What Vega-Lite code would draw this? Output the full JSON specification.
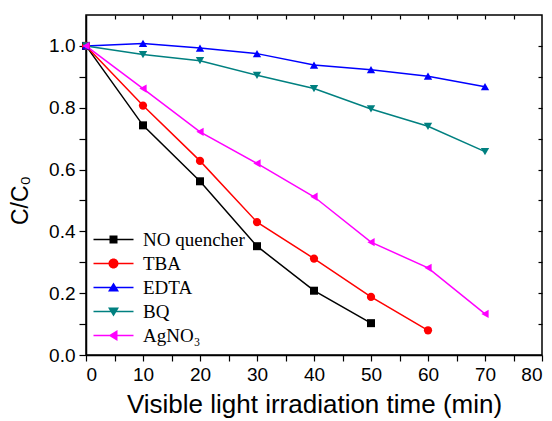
{
  "$schema": "https://vega.github.io/schema/vega-lite/v6.json",
  "width": 456,
  "height": 340,
  "autosize": {"type": "none"},
  "padding": {"left": 86, "top": 15, "right": 10, "bottom": 66},
  "background": "white",
  "config": {
    "view": {"stroke": "black", "strokeWidth": 1.5},
    "axis": {
      "domainColor": "black", "domainWidth": 1.5, "tickColor": "black", "tickWidth": 1.2,
      "labelFont": "Liberation Sans", "labelFontSize": 19, "labelColor": "black",
      "titleFont": "Liberation Sans", "titleFontSize": 26, "titleFontWeight": "normal", "titleColor": "black",
      "grid": false
    }
  },
  "data": {
    "values": [
      {"series": "NO quencher", "t": 0, "c": 1.0},
      {"series": "NO quencher", "t": 10, "c": 0.743},
      {"series": "NO quencher", "t": 20, "c": 0.562},
      {"series": "NO quencher", "t": 30, "c": 0.352},
      {"series": "NO quencher", "t": 40, "c": 0.208},
      {"series": "NO quencher", "t": 50, "c": 0.103},
      {"series": "TBA", "t": 0, "c": 1.0},
      {"series": "TBA", "t": 10, "c": 0.807},
      {"series": "TBA", "t": 20, "c": 0.628},
      {"series": "TBA", "t": 30, "c": 0.43},
      {"series": "TBA", "t": 40, "c": 0.312},
      {"series": "TBA", "t": 50, "c": 0.188},
      {"series": "TBA", "t": 60, "c": 0.08},
      {"series": "EDTA", "t": 0, "c": 1.0},
      {"series": "EDTA", "t": 10, "c": 1.008},
      {"series": "EDTA", "t": 20, "c": 0.993},
      {"series": "EDTA", "t": 30, "c": 0.975},
      {"series": "EDTA", "t": 40, "c": 0.938},
      {"series": "EDTA", "t": 50, "c": 0.923},
      {"series": "EDTA", "t": 60, "c": 0.902},
      {"series": "EDTA", "t": 70, "c": 0.868},
      {"series": "BQ", "t": 0, "c": 1.0},
      {"series": "BQ", "t": 10, "c": 0.972},
      {"series": "BQ", "t": 20, "c": 0.952},
      {"series": "BQ", "t": 30, "c": 0.905},
      {"series": "BQ", "t": 40, "c": 0.862},
      {"series": "BQ", "t": 50, "c": 0.796},
      {"series": "BQ", "t": 60, "c": 0.74},
      {"series": "BQ", "t": 70, "c": 0.658},
      {"series": "AgNO₃", "t": 0, "c": 1.0},
      {"series": "AgNO₃", "t": 10, "c": 0.862},
      {"series": "AgNO₃", "t": 20, "c": 0.722},
      {"series": "AgNO₃", "t": 30, "c": 0.62},
      {"series": "AgNO₃", "t": 40, "c": 0.512},
      {"series": "AgNO₃", "t": 50, "c": 0.365},
      {"series": "AgNO₃", "t": 60, "c": 0.282},
      {"series": "AgNO₃", "t": 70, "c": 0.133}
    ]
  },
  "encoding": {
    "color": {"field": "series", "type": "nominal",
      "scale": {"domain": ["NO quencher", "TBA", "EDTA", "BQ", "AgNO₃"], "range": ["#000000", "#FF0000", "#0000FF", "#008080", "#FF00FF"]},
      "legend": {"title": null, "orient": "none", "legendX": 18, "legendY": 215,
        "labelFont": "Liberation Serif", "labelFontSize": 19, "labelColor": "black",
        "symbolSize": 100, "labelOffset": 20, "rowPadding": 4, "padding": 0,
        "symbolOpacity": 1, "symbolStrokeWidth": 0}}
  },
  "layer": [
    {
      "mark": {"type": "line", "strokeWidth": 1.5},
      "encoding": {
        "x": {"field": "t", "type": "quantitative", "scale": {"domain": [0, 80], "nice": false},
          "axis": {"orient": "bottom", "title": "Visible light irradiation time (min)",
            "values": [0,5,10,15,20,25,30,35,40,45,50,55,60,65,70,75,80],
            "labelExpr": "datum.value % 10 == 0 ? datum.label : ''",
            "tickSize": 6, "labelPadding": 4, "titlePadding": 7}},
        "y": {"field": "c", "type": "quantitative", "scale": {"domain": [0, 1.1], "nice": false},
          "axis": {"orient": "left", "title": "C/C₀", "titleFontSize": 23,
            "titleX": -59, "titleY": 185, "titleBaseline": "alphabetic", "titleAngle": 270,
            "values": [0,0.1,0.2,0.3,0.4,0.5,0.6,0.7,0.8,0.9,1.0],
            "labelExpr": "round(datum.value*10) % 2 == 0 ? format(datum.value, '.1f') : ''",
            "tickSize": 7, "labelPadding": 4}}
      }
    },
    {
      "mark": {"type": "point", "filled": true, "opacity": 0},
      "encoding": {
        "x": {"field": "t", "type": "quantitative",
          "axis": {"orient": "top", "title": null, "labels": false,
            "values": [5,10,15,20,25,30,35,40,45,50,55,60,65,70,75], "tickSize": -4, "domain": false}},
        "y": {"field": "c", "type": "quantitative",
          "axis": {"orient": "right", "title": null, "labels": false,
            "values": [0.1,0.2,0.3,0.4,0.5,0.6,0.7,0.8,0.9,1.0], "tickSize": -4, "domain": false}},
        "shape": {"field": "series", "type": "nominal", "legend": null,
          "scale": {"domain": ["NO quencher", "TBA", "EDTA", "BQ", "AgNO₃"],
            "range": [
              "M-4,-0.15H4V0.15H-4ZM-0.8,-0.8H0.8V0.8H-0.8Z",
              "M-4,-0.15H4V0.15H-4ZM-1,0A1,1 0 1,1 1,0A1,1 0 1,1 -1,0Z",
              "M-4,-0.15H4V0.15H-4ZM0,-1L1.1,0.8H-1.1Z",
              "M-4,-0.15H4V0.15H-4ZM0,1L-1.1,-0.8H1.1Z",
              "M-4,-0.15H4V0.15H-4ZM-1,0L0.8,-1.1V1.1Z"
            ]}}
      }
    },
    {
      "transform": [{"filter": "datum.series === 'NO quencher'"}],
      "mark": {"type": "point", "filled": true, "size": 64, "opacity": 1, "shape": "square"},
      "encoding": {"x": {"field": "t", "type": "quantitative", "axis": null}, "y": {"field": "c", "type": "quantitative", "axis": null}}
    },
    {
      "transform": [{"filter": "datum.series === 'TBA'"}],
      "mark": {"type": "point", "filled": true, "size": 68, "opacity": 1, "shape": "circle"},
      "encoding": {"x": {"field": "t", "type": "quantitative", "axis": null}, "y": {"field": "c", "type": "quantitative", "axis": null}}
    },
    {
      "transform": [{"filter": "datum.series === 'EDTA'"}],
      "mark": {"type": "point", "filled": true, "size": 70, "opacity": 1, "shape": "triangle-up"},
      "encoding": {"x": {"field": "t", "type": "quantitative", "axis": null}, "y": {"field": "c", "type": "quantitative", "axis": null}}
    },
    {
      "transform": [{"filter": "datum.series === 'BQ'"}],
      "mark": {"type": "point", "filled": true, "size": 70, "opacity": 1, "shape": "triangle-down"},
      "encoding": {"x": {"field": "t", "type": "quantitative", "axis": null}, "y": {"field": "c", "type": "quantitative", "axis": null}}
    },
    {
      "transform": [{"filter": "datum.series === 'AgNO₃'"}],
      "mark": {"type": "point", "filled": true, "size": 70, "opacity": 1, "shape": "triangle-left"},
      "encoding": {"x": {"field": "t", "type": "quantitative", "axis": null}, "y": {"field": "c", "type": "quantitative", "axis": null}}
    }
  ]
}
